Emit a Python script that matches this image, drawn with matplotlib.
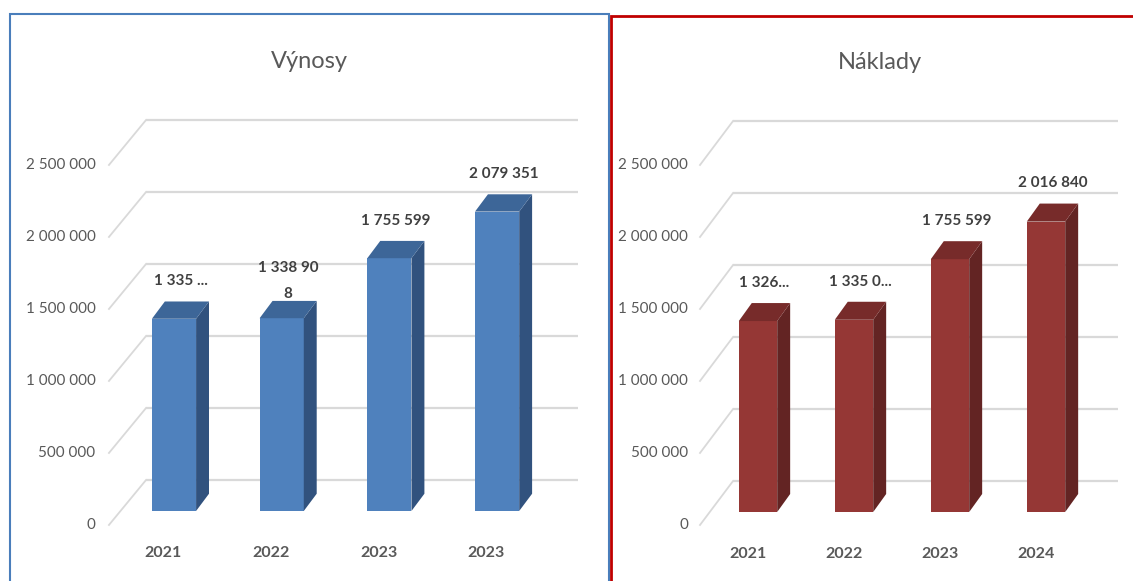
import numpy as np
import matplotlib
matplotlib.use("Agg")
from matplotlib import pyplot as plt
from matplotlib.patches import Rectangle

# data
roky_vynosy = ['2021', '2022', '2023', '2023']
vynosy = [1335000, 1338908, 1755599, 2079351]
popisky_vynosy = ['1 335 ...', '1 338 90\n8', '1 755 599', '2 079 351']

roky_naklady = ['2021', '2022', '2023', '2024']
naklady = [1326000, 1335000, 1755599, 2016840]
popisky_naklady = ['1 326...', '1 335 0...', '1 755 599', '2 016 840']

osa_y = [0, 500000, 1000000, 1500000, 2000000, 2500000]
osa_y_text = ['0', '500 000', '1 000 000', '1 500 000', '2 000 000', '2 500 000']

FONT = ['Lato', 'DejaVu Sans']
W, H = 1133, 581

fig = plt.figure(figsize=(W / 100, H / 100), dpi=100)


def panel(px_left, px_right, px_top, x0, pitch, y0, cats, vals, labels, title,
          title_x, c_front, c_top, c_side, bar_w, dx, dy, front_dy):
    ax = fig.add_axes([px_left / W, 0, (px_right - px_left) / W, (H - px_top) / H])
    per_px = 500000 / 72.0
    ax.set_xlim((px_left - x0) / pitch, (px_right - x0) / pitch)
    ax.set_ylim((y0 - H) * per_px, (y0 - px_top) * per_px)
    ax.axis('off')

    # walls / gridlines
    back_x, front_x, right_x = -0.26, -0.604, 3.75
    back_dy = 215000
    for v, t in zip(osa_y, osa_y_text):
        ax.plot([back_x, right_x], [v + back_dy, v + back_dy], color='#d9d9d9', lw=1.6,
                solid_capstyle='butt', zorder=1)
        ax.plot([front_x, back_x], [v + front_dy, v + back_dy], color='#d9d9d9', lw=1.3, zorder=1)
        ax.text(-0.73, v + front_dy, t, ha='right', va='center', fontsize=11,
                color='#595959', family=FONT)

    # 3d bars
    x = np.arange(len(vals))
    ax.bar(x, vals, width=bar_w, color=c_front, zorder=3)
    for xi, v in zip(x, vals):
        l, r = xi - bar_w / 2, xi + bar_w / 2
        ax.fill([r, r + dx, r + dx, r], [0, dy, v + dy, v], color=c_side, lw=0, zorder=3)
        ax.fill([l, r, r + dx, l + dx], [v, v, v + dy, v + dy], color=c_top, lw=0, zorder=3)

    for xi, v, lab in zip(x, vals, labels):
        ax.text(xi + dx / 2, v + dy + 140000, lab, ha='center', va='center', fontsize=11,
                fontweight='bold', color='#404040', family=FONT, linespacing=2.1)

    for xi, c in zip(x, cats):
        ax.text(xi - 0.1, -295000, c, ha='center', va='center', fontsize=11.5,
                fontweight='bold', color='#595959', family=FONT)

    ax.text(title_x, 0.917, title, transform=ax.transAxes, ha='center', va='center',
            fontsize=17, color='#595959', family=FONT)
    return ax


panel(10, 609, 14, 174, 107.7, 511, roky_vynosy, vynosy, popisky_vynosy, 'Výnosy', 0.50,
      '#4f81bd', '#3d6698', '#31527e', 0.41, 0.12, 120000, -97000)
panel(612, 1133, 16, 758, 96.0, 512, roky_naklady, naklady, popisky_naklady, 'Náklady', 0.514,
      '#953735', '#772b2a', '#632423', 0.40, 0.135, 125000, -90000)

# chart borders
fig.add_artist(Rectangle((10 / W, -0.02), 599 / W, (H - 14) / H + 0.02, transform=fig.transFigure,
                         fill=False, edgecolor='#4a7ebb', lw=1.5))
fig.add_artist(Rectangle((611 / W, -0.02), 0.5, (H - 16) / H + 0.02, transform=fig.transFigure,
                         fill=False, edgecolor='#c00000', lw=2))

fig.savefig('out.png', dpi=100, facecolor='white')
